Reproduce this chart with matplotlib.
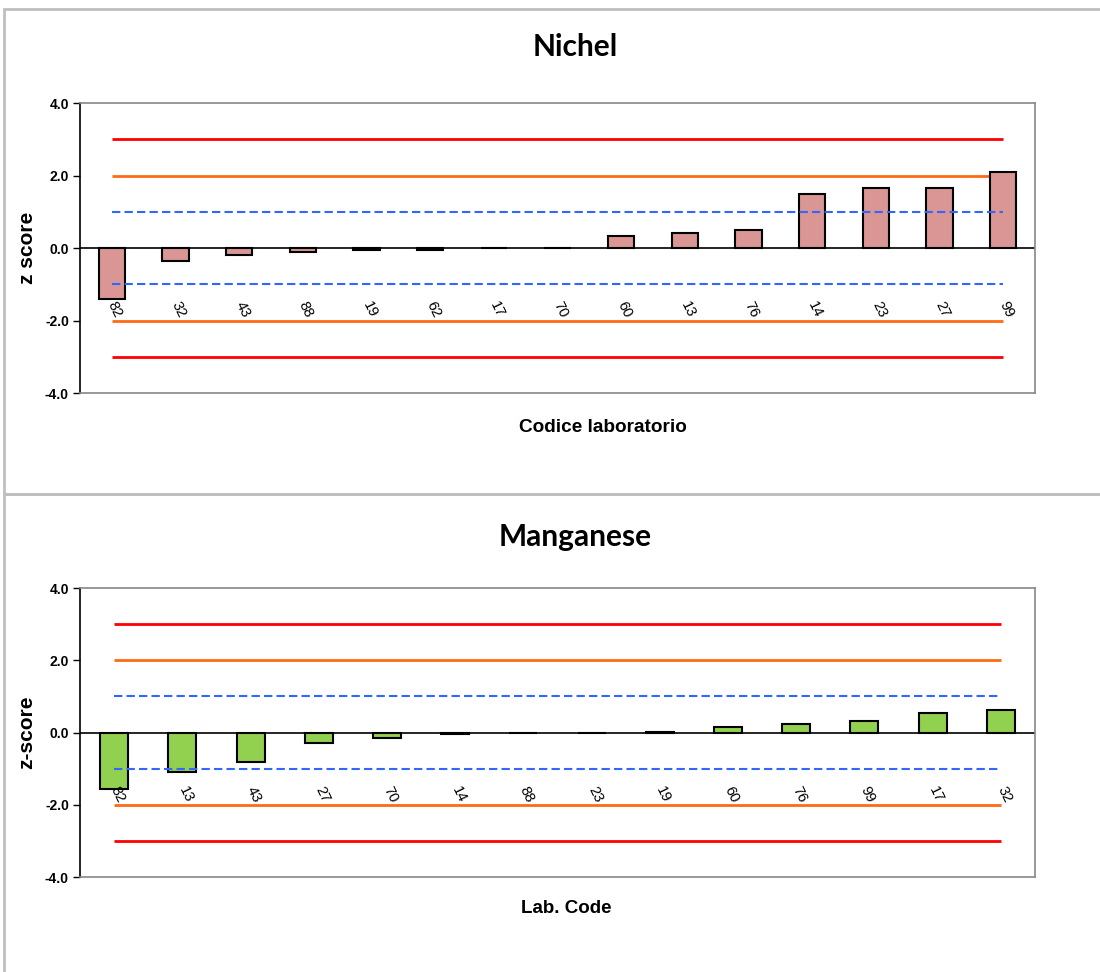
import matplotlib
matplotlib.use('Agg')
import matplotlib.pyplot as plt
from matplotlib.patches import Rectangle

# Nichel
ni_labs = ['82', '32', '43', '88', '19', '62', '17', '70', '60', '13', '76', '14', '23', '27', '99']
ni_z = [-1.40, -0.35, -0.19, -0.10, -0.05, -0.05, 0.0, 0.0, 0.34, 0.41, 0.50, 1.50, 1.65, 1.65, 2.09]

# Manganese
mn_labs = ['82', '13', '43', '27', '70', '14', '88', '23', '19', '60', '76', '99', '17', '32']
mn_z = [-1.57, -1.10, -0.83, -0.29, -0.15, -0.05, -0.02, 0.0, 0.02, 0.14, 0.24, 0.32, 0.55, 0.62]

yticks = [-4, -2, 0, 2, 4]

plt.rcParams['font.family'] = ['Liberation Sans', 'DejaVu Sans']


def zplot(ax, labs, vals, color, ylab):
  n = len(labs)
  x = list(range(n))
  ax.bar(x, vals, width=0.41, color=color, edgecolor='black', linewidth=1.5, zorder=3)
  ax.axhline(0, color='black', linewidth=1.2, zorder=2)
  for y in (3, -3):
    ax.hlines(y, 0, n - 1, color='#FF0000', linewidth=2, zorder=1)
  for y in (2, -2):
    ax.hlines(y, 0, n - 1, color='#FF6A13', linewidth=2, zorder=1)
  for y in (1, -1):
    ax.hlines(y, 0, n - 1, color='#3366FF', linewidth=1.5, linestyles=(0, (4, 2)), zorder=4)
  for i, l in zip(x, labs):
    ax.text(i + 0.05, -1.42, l, rotation=-64, ha='center', va='top', fontsize=10.5, zorder=5)
  ax.set_xlim(-0.5, n - 0.5)
  ax.set_ylim(-4, 4)
  ax.set_xticks([])
  ax.set_yticks(yticks)
  ax.set_yticklabels(['%.1f' % v for v in yticks], fontsize=10, fontweight='bold')
  ax.tick_params(axis='y', direction='out', length=5, width=1, pad=3)
  ax.spines['left'].set_color('black')
  ax.spines['left'].set_linewidth(1.2)
  for s in ('top', 'right', 'bottom'):
    ax.spines[s].set_color('#888888')
    ax.spines[s].set_linewidth(1.2)
  ax.set_ylabel(ylab, fontsize=15, fontweight='bold', labelpad=6)


fig = plt.figure(figsize=(11, 9.72), dpi=100)

# panel frames
fig.patches.append(Rectangle((4 / 1100, (972 - 494) / 972), 1.1, (494 - 9) / 972, transform=fig.transFigure,
                             fill=False, edgecolor='#BFBFBF', linewidth=2))
fig.patches.append(Rectangle((4 / 1100, -0.1), 1.1, 0.1 + (972 - 494) / 972, transform=fig.transFigure,
                             fill=False, edgecolor='#BFBFBF', linewidth=2))

ax1 = fig.add_axes([80 / 1100, 579 / 972, 955 / 1100, 290 / 972])
zplot(ax1, ni_labs, ni_z, '#D99694', 'z score')
fig.text(575 / 1100, 1 - 47 / 972, 'Nichel', ha='center', va='center', fontsize=21.5,
         fontweight='bold', family=['Lato', 'DejaVu Sans'])
fig.text(603 / 1100, 1 - 427 / 972, 'Codice laboratorio', ha='center', va='center', fontsize=13.7,
         fontweight='bold')

ax2 = fig.add_axes([80 / 1100, 95 / 972, 955 / 1100, 289 / 972])
zplot(ax2, mn_labs, mn_z, '#92D050', 'z-score')
fig.text(575 / 1100, 1 - 537 / 972, 'Manganese', ha='center', va='center', fontsize=21.5,
         fontweight='bold', family=['Lato', 'DejaVu Sans'])
fig.text(566 / 1100, 1 - 908 / 972, 'Lab. Code', ha='center', va='center', fontsize=13.5,
         fontweight='bold')

fig.savefig('out.png', dpi=100)
plt.close()
